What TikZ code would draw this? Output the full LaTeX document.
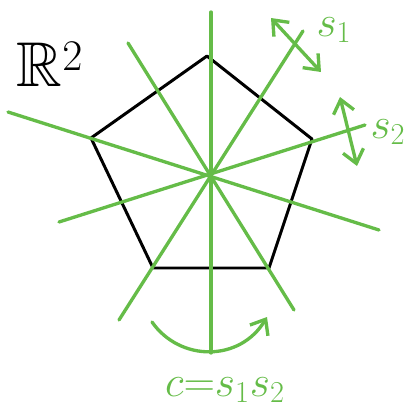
\documentclass[tikz,border=0pt]{standalone}
\usepackage{amsmath,amssymb}
\usetikzlibrary{arrows.meta}
\definecolor{refgreen}{RGB}{101,188,72}

\begin{document}
\begin{tikzpicture}[x=0.02cm,y=-0.02cm,
    pent/.style={draw=black,line width=1.7pt,line join=round},
    axis/.style={draw=refgreen,line width=1.9pt,line cap=round},
    flip/.style={axis,{Straight Barb[length=2.6mm,width=4.2mm]}-{Straight Barb[length=2.6mm,width=4.2mm]}},
    turn/.style={axis,-{Straight Barb[length=2.6mm,width=4.2mm]}},
    lab/.style={text=refgreen,font=\fontsize{24}{26}\selectfont,inner sep=0pt}]
    \useasboundingbox (0,0) rectangle (414,410);
    \coordinate (o) at (211,175);
    \foreach \n/\x/\y in {p1/207/56,p2/312/139,p3/269/268,p4/153/268,p5/91/138}
      {\coordinate (\n) at (\x,\y);}
    \draw[pent] (p1)--(p2)--(p3)--(p4)--(p5)--cycle;
    % mirror lines, all through o
    \foreach \i/\ax/\ay/\bx/\by in {1/211/12/211/353,2/128/43/294/310,
        3/303/31/119/320,4/8/112/379/230,5/59/222/365/125}{
      \coordinate (a\i) at (\ax,\ay); \coordinate (b\i) at (\bx,\by);
      \draw[axis] (a\i)--(b\i);}
    % reflections and rotation
    \coordinate (s1a) at (271,18); \coordinate (s1b) at (321,72);
    \coordinate (s2a) at (340,97); \coordinate (s2b) at (357,166);
    \coordinate (ca) at (152,322); \coordinate (cb) at (267,317);
    \draw[flip] (s1a)--(s1b);
    \draw[flip] (s2a)--(s2b);
    \draw[turn] (ca) .. controls (180,362) and (240,362) .. (cb);
    \node[lab] (ls1) at (334,30) {$s_1$};
    \node[lab] (ls2) at (388,132) {$s_2$};
    \node[lab] (lc) at (225,390) {$c{=}s_1s_2$};
    \node[font=\fontsize{36}{38}\selectfont,inner sep=0pt] (plane) at (50,64) {$\mathbb{R}^2$};
  \end{tikzpicture}
\end{document}
